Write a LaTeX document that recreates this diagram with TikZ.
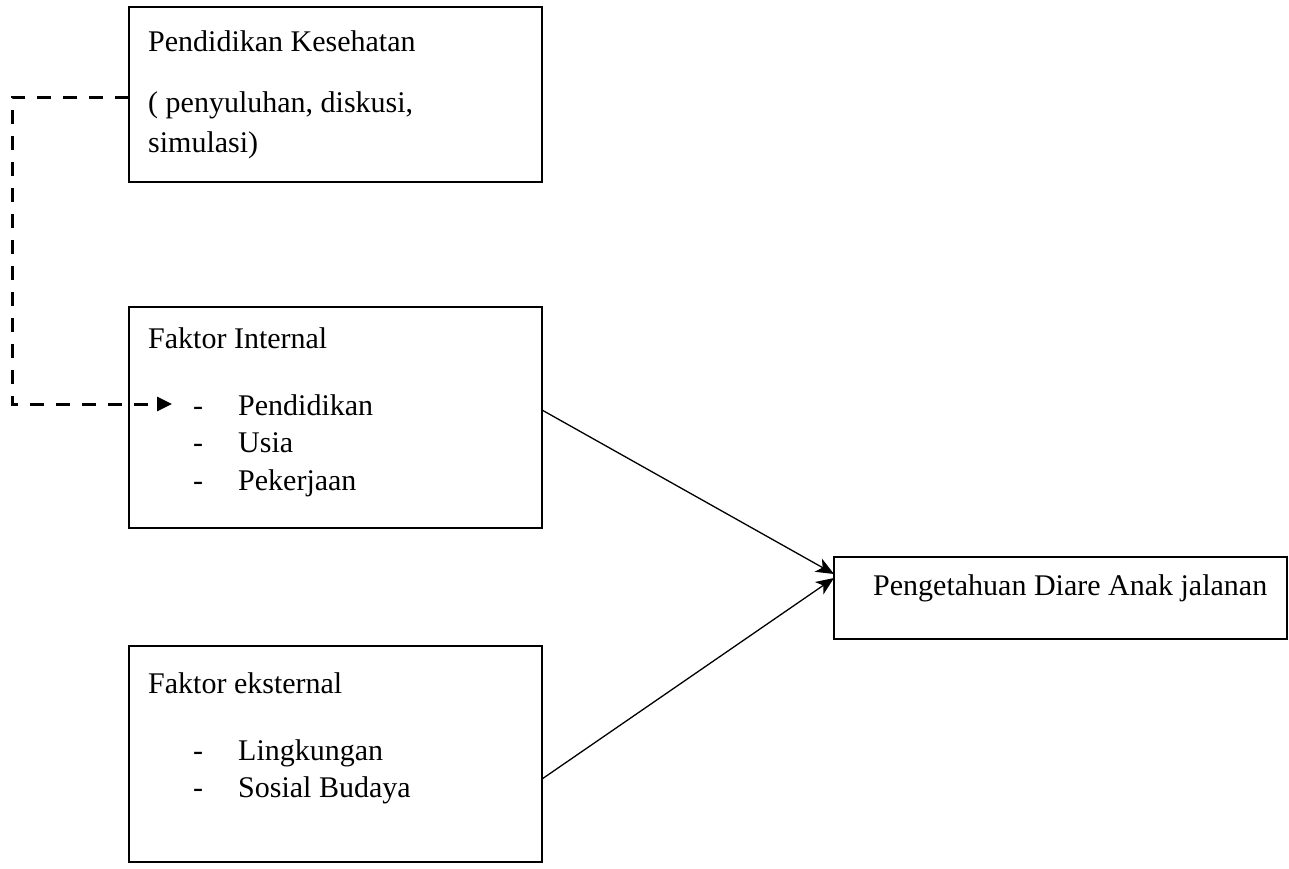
\documentclass[tikz,border=0pt]{standalone}
\usepackage{fontspec}
\setmainfont{Liberation Serif}
\usetikzlibrary{arrows.meta}
\begin{document}
\begin{tikzpicture}[x=1pt,y=-1pt,
  box/.style={draw=black,line width=2pt,anchor=north west,inner sep=0pt,outer sep=0pt},
  txt/.style={anchor=base west,inner sep=0pt,font=\fontsize{30}{36}\selectfont},
  dashconn/.style={line width=3pt,dash pattern=on 14pt off 12pt,-{Triangle[length=15pt,width=14pt]}},
  conn/.style={line width=1.3pt,-{Stealth[length=18pt,width=15pt,inset=5pt]}}]
\useasboundingbox (0,0) rectangle (1289,868);
\fill[white] (0,0) rectangle (1289,868);
% boxes
\node[box,minimum width=413pt,minimum height=175pt] (b1) at (129,7) {};
\node[box,minimum width=413pt,minimum height=221pt] (b2) at (129,307) {};
\node[box,minimum width=413pt,minimum height=216pt] (b3) at (129,646) {};
\node[box,minimum width=453pt,minimum height=82pt] (b4) at (834,557) {};
% texts box 1
\node[txt] (t11) at (148,51) {Pendidikan Kesehatan};
\node[txt] (t12) at (148,112) {( penyuluhan, diskusi,};
\node[txt] (t13) at (148,152) {simulasi)};
% texts box 2
\node[txt] (t21) at (148,348) {Faktor Internal};
\node[txt] (d22) at (193,415) {-};
\node[txt] (t22) at (238,415) {Pendidikan};
\node[txt] (d23) at (193,452) {-};
\node[txt] (t23) at (238,452) {Usia};
\node[txt] (d24) at (193,490) {-};
\node[txt] (t24) at (238,490) {Pekerjaan};
% texts box 3
\node[txt] (t31) at (148,693) {Faktor eksternal};
\node[txt] (d32) at (193,760) {-};
\node[txt] (t32) at (238,760) {Lingkungan};
\node[txt] (d33) at (193,797) {-};
\node[txt] (t33) at (238,797) {Sosial Budaya};
% text box 4
\node[txt] (t41) at (873,595) {Pengetahuan Diare Anak jalanan};
% connectors
\coordinate (dcorner) at (12,404);
\coordinate (dtip) at (172,404);
\draw[dashconn] ([yshift=-2.5pt]b1.west) -| (dcorner) -- (dtip);
\draw[conn] ([yshift=7.5pt]b2.east) -- ([yshift=24pt]b4.west);
\draw[conn] ([yshift=-25pt]b3.east) -- ([yshift=20pt]b4.west);
\end{tikzpicture}
\end{document}
